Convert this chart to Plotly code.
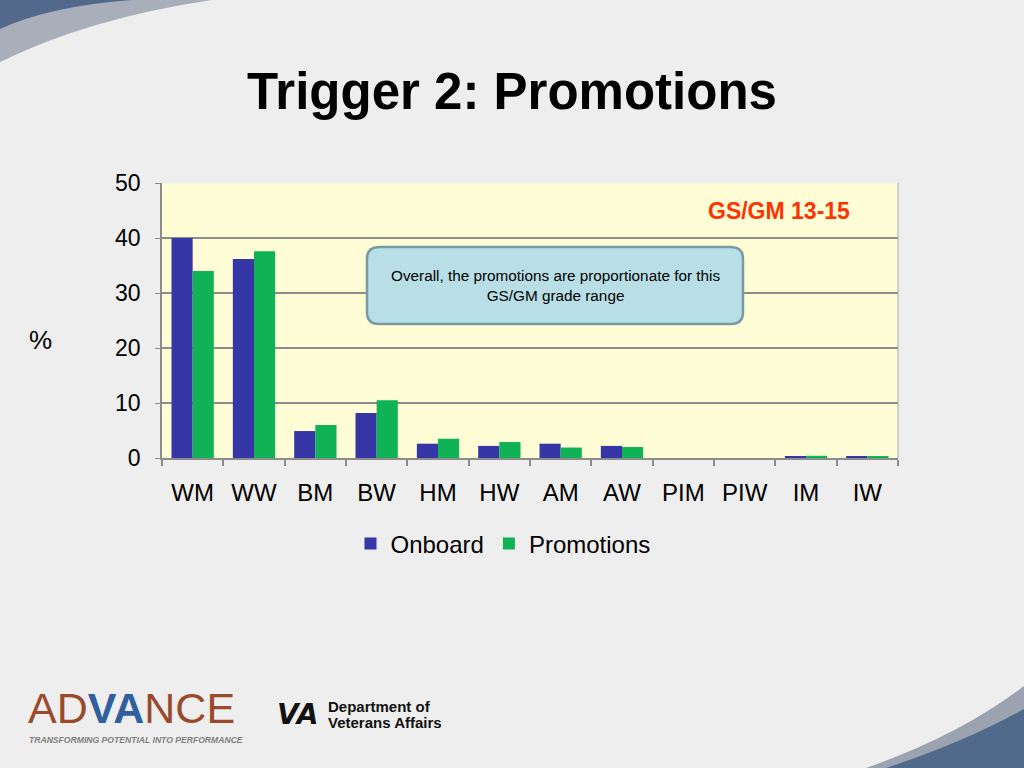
import plotly.graph_objects as go

categories = ["WM", "WW", "BM", "BW", "HM", "HW", "AM", "AW", "PIM", "PIW", "IM", "IW"]
onboard = [40.0, 36.2, 4.9, 8.2, 2.6, 2.2, 2.6, 2.2, 0.0, 0.0, 0.3, 0.2]
promotions = [34.0, 37.6, 6.0, 10.5, 3.5, 2.9, 1.9, 2.0, 0.0, 0.0, 0.4, 0.3]
y_ticks = [0, 10, 20, 30, 40, 50]

W, H = 1024, 768
L, R, T, B = 162, 898, 183, 458
FONT = "Liberation Sans, Arial"


def px(x):
    return (x - L) / (R - L)


def py(y):
    return (B - y) / (B - T)


fig = go.Figure()
fig.add_trace(go.Bar(name="Onboard", x=categories, y=onboard,
                     marker=dict(color="#3636A6", line=dict(width=0))))
fig.add_trace(go.Bar(name="Promotions", x=categories, y=promotions,
                     marker=dict(color="#0FB254", line=dict(width=0))))

shapes = []
# top-left swoosh (gray band + blue corner)
shapes.append(dict(type="path", xref="paper", yref="paper", layer="below",
                   path=(f"M {px(0)} {py(0)} L {px(212)} {py(0)} "
                         f"Q {px(90)} {py(18)} {px(0)} {py(62)} Z"),
                   fillcolor="#A8AFBA", line=dict(width=0)))
shapes.append(dict(type="path", xref="paper", yref="paper", layer="below",
                   path=(f"M {px(0)} {py(0)} L {px(132)} {py(0)} "
                         f"Q {px(50)} {py(6)} {px(0)} {py(29)} Z"),
                   fillcolor="#52698C", line=dict(width=0)))
# bottom-right swoosh
shapes.append(dict(type="path", xref="paper", yref="paper", layer="below",
                   path=(f"M {px(866)} {py(768)} Q {px(960)} {py(735)} {px(1024)} {py(686)} "
                         f"L {px(1024)} {py(768)} Z"),
                   fillcolor="#9AA3AF", line=dict(width=0)))
shapes.append(dict(type="path", xref="paper", yref="paper", layer="below",
                   path=(f"M {px(886)} {py(768)} Q {px(965)} {py(742)} {px(1024)} {py(709)} "
                         f"L {px(1024)} {py(768)} Z"),
                   fillcolor="#516A8C", line=dict(width=0)))
# rounded annotation box
x0, x1, y0, y1, r = 367, 743, 247, 324, 12
path = (f"M {px(x0 + r)} {py(y0)} L {px(x1 - r)} {py(y0)} Q {px(x1)} {py(y0)} {px(x1)} {py(y0 + r)} "
        f"L {px(x1)} {py(y1 - r)} Q {px(x1)} {py(y1)} {px(x1 - r)} {py(y1)} "
        f"L {px(x0 + r)} {py(y1)} Q {px(x0)} {py(y1)} {px(x0)} {py(y1 - r)} "
        f"L {px(x0)} {py(y0 + r)} Q {px(x0)} {py(y0)} {px(x0 + r)} {py(y0)} Z")
shapes.append(dict(type="path", xref="paper", yref="paper", path=path,
                   fillcolor="#B8DFE6", line=dict(color="#7A9AA3", width=2.5)))
# right border of plot area
shapes.append(dict(type="line", xref="paper", yref="paper", x0=1, x1=1, y0=0, y1=1,
                   line=dict(color="#A8A8A8", width=1)))


def ann(text, x, y, size, color="#000000", xanchor="center", align="center", family=FONT):
    return dict(text=text, x=px(x), y=py(y), xref="paper", yref="paper", showarrow=False,
                xanchor=xanchor, yanchor="middle", align=align, borderpad=0,
                font=dict(family=family, size=size, color=color))


annotations = [
    ann("<b>Trigger 2: Promotions</b>", 512, 91, 51),
    ann("%", 40, 340, 26),
    ann("<b>GS/GM 13-15</b>", 779, 211, 23, color="#FF3300"),
    ann("Overall, the promotions are proportionate for this<br>GS/GM grade range", 555, 285, 15.3),
    ann("AD<span style='color:#2F5F9E'><b>VA</b></span>NCE", 27, 708, 43, color="#9A4A2C", xanchor="left"),
    ann("<b><i>TRANSFORMING POTENTIAL INTO PERFORMANCE</i></b>", 28, 740, 8.6, color="#808080",
        xanchor="left"),
    ann("<b><i>VA</i></b>", 297, 714, 28, color="#111111", family="DejaVu Sans"),
    ann("<b>Department of</b>", 327, 706, 15, color="#111111", xanchor="left"),
    ann("<b>Veterans Affairs</b>", 327, 722, 15, color="#111111", xanchor="left"),
]

fig.update_layout(
    width=W, height=H,
    margin=dict(l=L, r=W - R, t=T, b=H - B, pad=0),
    paper_bgcolor="#EEEEEE",
    plot_bgcolor="#FEFDD6",
    barmode="group", bargap=0.31, bargroupgap=0,
    font=dict(family=FONT, color="#000000"),
    showlegend=True,
    legend=dict(orientation="h", x=px(503), y=py(544), xanchor="center", yanchor="middle",
                font=dict(size=24), bgcolor="rgba(0,0,0,0)", itemwidth=30),
    shapes=shapes,
    annotations=annotations,
)
fig.update_xaxes(tickfont=dict(size=24), showline=True, linecolor="#8C8C8C", linewidth=2,
                 ticks="outside", tickson="boundaries", tickcolor="#8C8C8C", ticklen=6, tickwidth=2,
                 ticklabelstandoff=12, showgrid=False)
fig.update_yaxes(range=[0, 50], tickvals=y_ticks, tickfont=dict(size=23), showline=True,
                 linecolor="#8C8C8C", linewidth=1.5, ticks="outside", tickcolor="#8C8C8C", ticklen=5,
                 ticklabelstandoff=10, gridcolor="#8C8C8C", gridwidth=1.5, zeroline=False)

fig.write_html("out.html", config={"displayModeBar": False},
               post_script="document.body.style.margin='0px';"
                           "document.body.style.background='#EEEEEE';")
